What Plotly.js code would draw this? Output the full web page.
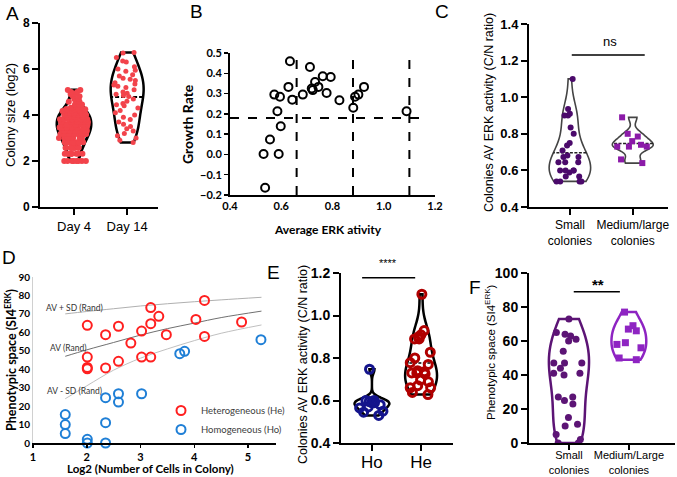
<!DOCTYPE html>
<html><head><meta charset="utf-8">
<script src="https://cdn.plot.ly/plotly-3.0.1.min.js"></script>
<style>html,body{margin:0;padding:0;background:#fff}#chart{width:677px;height:477px}</style>
</head><body><div id="chart"></div>
<script>
// ---------------- DATA ----------------
// Panel A: colony size (log2)
const aCats = ['Day 4', 'Day 14'];
const aDay4Levels = [2.0, 2.32, 2.58, 2.81, 3.0, 3.17, 3.32, 3.46, 3.58, 3.70, 3.81, 3.91, 4.0, 4.09, 4.17, 4.25, 4.32, 4.46, 4.58, 4.70, 4.81, 4.91, 5.0, 5.09];
const aDay4Counts = [8, 9, 10, 11, 12, 12, 12, 12, 11, 10, 9, 8, 8, 6, 6, 5, 4, 3, 3, 2, 2, 2, 2, 2];
const aDay14 = [6.72, 6.7, 6.5, 6.35, 6.3, 6.1, 6.0, 5.95, 5.9, 5.75, 5.7, 5.6, 5.55, 5.5, 5.4, 5.35, 5.3, 5.25, 5.2, 5.1, 5.0, 4.95, 4.9, 4.85, 4.8, 4.7, 4.6, 4.5, 4.45, 4.4, 4.3, 4.2, 4.1, 4.0, 3.9, 3.8, 3.7, 3.6, 3.5, 3.4, 3.3, 3.2, 3.1, 3.0, 2.9, 2.8];

// Panel B: growth rate vs average ERK activity
const bErk = [0.634, 0.712, 0.573, 0.595, 0.628, 0.643, 0.585, 0.598, 0.556, 0.531, 0.590, 0.537, 0.684, 0.719, 0.723, 0.732, 0.745, 0.762, 0.777, 0.793, 0.827, 0.881, 0.888, 0.901, 0.923, 1.089];
const bGrowth = [0.459, 0.431, 0.295, 0.284, 0.333, 0.270, 0.213, 0.139, 0.074, 0.002, 0.002, -0.164, 0.295, 0.325, 0.317, 0.357, 0.333, 0.385, 0.303, 0.382, 0.267, 0.230, 0.284, 0.295, 0.333, 0.213];
const bThreshGrowth = 0.18;
const bThreshErk = [0.66, 0.88, 1.10];

// Panel C: colonies AV ERK activity
const cCats = ['Small<br>colonies', 'Medium/large<br>colonies'];
const cSmall = [1.10, 0.935, 0.91, 0.90, 0.90, 0.835, 0.80, 0.75, 0.736, 0.709, 0.682, 0.673, 0.673, 0.644, 0.644, 0.644, 0.60, 0.60, 0.60, 0.60, 0.589, 0.567, 0.567, 0.54, 0.54, 0.54, 0.54];
const cMedium = [0.89, 0.80, 0.785, 0.76, 0.74, 0.73, 0.73, 0.73, 0.66, 0.64];

// Panel D: phenotypic space vs log2 cells
const dHeX = [2.01, 2.01, 2.01, 2.01, 2.35, 2.35, 2.59, 2.59, 2.82, 3.02, 3.02, 3.19, 3.19, 3.19, 3.34, 3.48, 4.03, 4.19, 4.19, 4.88];
const dHeY = [63.8, 46.6, 41.0, 40.2, 58.7, 40.7, 63.3, 44.3, 54.2, 60.7, 46.6, 73.4, 64.7, 46.6, 68.7, 58.7, 67.0, 77.3, 57.8, 65.6];
const dHoX = [1.6, 1.6, 1.6, 2.01, 2.01, 2.35, 2.35, 2.35, 2.59, 2.59, 3.02, 3.73, 3.82, 5.24];
const dHoY = [15.4, 10.0, 5.1, 2.0, 0.0, 24.6, 11.0, 0.0, 26.7, 22.2, 26.7, 48.4, 49.7, 56.0];
const dRandX = [1.6, 2.0, 2.5, 3.0, 3.5, 4.0, 4.5, 5.25];
const dRandPlusSD = [70.0, 71.3, 72.8, 74.3, 75.5, 76.6, 77.6, 79.0];
const dRandAV = [47.0, 50.5, 54.5, 58.5, 62.0, 65.0, 68.0, 71.5];
const dRandMinusSD = [24.0, 31.0, 39.5, 46.0, 51.0, 55.5, 59.5, 64.0];

// Panel E: Ho vs He ERK activity
const eCats = ['Ho', 'He'];
const eHo = [0.747, 0.60, 0.60, 0.595, 0.59, 0.59, 0.58, 0.57, 0.565, 0.55, 0.545, 0.53];
const eHe = [1.10, 0.929, 0.909, 0.90, 0.89, 0.89, 0.827, 0.80, 0.778, 0.77, 0.74, 0.735, 0.73, 0.73, 0.725, 0.696, 0.688, 0.67, 0.66, 0.66, 0.638, 0.628];

// Panel F: phenotypic space by colony size
const fCats = ['Small<br>colonies', 'Medium/Large<br>colonies'];
const fSmall = [73, 65, 64, 63, 61, 60, 54, 47, 47, 47, 44, 41, 41, 40, 27, 27, 25, 23, 15, 11, 10, 5, 2, 0, 0];
const fMedium = [77, 69, 67, 66, 59, 58, 56, 50, 49];

// ---------------- LAYOUT HELPERS ----------------
const W = 677, H = 477;
const dx = (a, b) => [a / W, b / W];
const dy = (top, bot) => [1 - bot / H, 1 - top / H];
const AR = 'Liberation Sans, Arial, sans-serif';
const CAL = 'Lato, Liberation Sans, sans-serif';
function axis(o) {
  return Object.assign({showgrid: false, zeroline: false, showline: true, linecolor: '#000', linewidth: 2,
    ticks: 'outside', ticklen: 6, tickwidth: 2, tickcolor: '#000', fixedrange: true}, o);
}
function ann(text, x, y, o) {
  return Object.assign({text: text, xref: 'paper', yref: 'paper', x: x / W, y: 1 - y / H, showarrow: false,
    xanchor: 'center', yanchor: 'middle', font: {family: AR, size: 12, color: '#000'}}, o || {});
}
function violin(vals, pos, xa, ya, o) {
  return Object.assign({type: 'violin', y: vals, x0: pos, xaxis: xa, yaxis: ya, points: 'all', pointpos: 0, jitter: 0.9,
    spanmode: 'hard', fillcolor: 'rgba(255,255,255,0)', showlegend: false, hoverinfo: 'y'}, o);
}

const aDay4 = aDay4Levels.flatMap((v, i) => Array(aDay4Counts[i]).fill(v));

const traces = [
  // A
  violin(aDay4, 0, 'x', 'y', {line: {color: '#000', width: 3}, marker: {color: '#f2434b', size: 6}, width: 0.64}),
  violin(aDay14, 1, 'x', 'y', {line: {color: '#000', width: 2.5}, marker: {color: '#f2434b', size: 5}, width: 0.62,
    meanline: {visible: true, color: '#000', width: 2}}),
  // B
  {type: 'scatter', mode: 'markers', x: bErk, y: bGrowth, xaxis: 'x2', yaxis: 'y2', showlegend: false,
   marker: {symbol: 'circle-open', size: 8, color: '#000', line: {width: 2}}},
  // C
  violin(cSmall, 0, 'x3', 'y3', {line: {color: '#444', width: 1.6}, marker: {color: '#4b0a6b', size: 6}, width: 0.66,
    meanline: {visible: true, color: '#222', width: 1.5}}),
  violin(cMedium, 1, 'x3', 'y3', {line: {color: '#444', width: 1.6}, marker: {color: '#8b1aa8', size: 6, symbol: 'square'}, width: 0.65,
    meanline: {visible: true, color: '#222', width: 1.5}}),
  // D
  {type: 'scatter', mode: 'lines', x: dRandX, y: dRandPlusSD, xaxis: 'x4', yaxis: 'y4', showlegend: false, line: {color: '#b0b0b0', width: 1, shape: 'spline'}},
  {type: 'scatter', mode: 'lines', x: dRandX, y: dRandAV, xaxis: 'x4', yaxis: 'y4', showlegend: false, line: {color: '#707070', width: 1, shape: 'spline'}},
  {type: 'scatter', mode: 'lines', x: dRandX, y: dRandMinusSD, xaxis: 'x4', yaxis: 'y4', showlegend: false, line: {color: '#c0c0c0', width: 1, shape: 'spline'}},
  {type: 'scatter', mode: 'markers', name: 'Heterogeneous (He)', x: dHeX, y: dHeY, xaxis: 'x4', yaxis: 'y4',
   marker: {symbol: 'circle-open', size: 9, color: '#ff1f1f', line: {width: 2}}},
  {type: 'scatter', mode: 'markers', name: 'Homogeneous (Ho)', x: dHoX, y: dHoY, xaxis: 'x4', yaxis: 'y4', cliponaxis: false,
   marker: {symbol: 'circle-open', size: 9, color: '#1f7fd6', line: {width: 2}}},
  // E
  violin(eHo, 0, 'x5', 'y5', {line: {color: '#000', width: 2.5}, marker: {color: '#14148c', size: 8, symbol: 'circle-open', line: {width: 3}}, width: 0.71}),
  violin(eHe, 1, 'x5', 'y5', {line: {color: '#000', width: 2.5}, marker: {color: '#b00000', size: 8, symbol: 'circle-open', line: {width: 3}}, width: 0.65,
    meanline: {visible: true, color: '#000', width: 1.5}}),
  // F
  violin(fSmall, 0, 'x6', 'y6', {line: {color: '#5c1475', width: 2.5}, marker: {color: '#5c1475', size: 7}, width: 0.67}),
  violin(fMedium, 1, 'x6', 'y6', {line: {color: '#8e24c2', width: 2.5}, marker: {color: '#8e24c2', size: 7, symbol: 'square'}, width: 0.58})
];

const boldAR = (s) => ({family: AR, size: s, color: '#000', weight: 'bold'});
const boldCAL = (s) => ({family: CAL, size: s, color: '#000', weight: 'bold'});

const layout = {
  width: W, height: H, margin: {l: 0, r: 0, t: 0, b: 0}, paper_bgcolor: '#fff', plot_bgcolor: 'rgba(0,0,0,0)',
  font: {family: AR, color: '#000'},
  // A
  xaxis: axis({domain: dx(40, 158), anchor: 'y', range: [-0.64, 1.58], tickvals: [0, 1], ticktext: aCats, tickfont: {family: AR, size: 13}}),
  yaxis: axis({domain: dy(23, 207), anchor: 'x', range: [0, 8], dtick: 2, tickfont: boldAR(12)}),
  // B
  xaxis2: axis({domain: dx(230, 435), anchor: 'y2', range: [0.4, 1.2], dtick: 0.2, tickformat: '.1f', ticks: '', tickfont: boldCAL(11)}),
  yaxis2: axis({domain: dy(53, 195), anchor: 'x2', range: [-0.2, 0.5], dtick: 0.1, tickformat: '.1f', ticklen: 4, tickwidth: 1.5, tickfont: boldCAL(11)}),
  // C
  xaxis3: axis({domain: dx(529, 668), anchor: 'y3', range: [-0.65, 1.56], tickvals: [0, 1], ticktext: cCats, tickfont: {family: AR, size: 12}}),
  yaxis3: axis({domain: dy(24, 207), anchor: 'x3', range: [0.4, 1.4], dtick: 0.2, tickformat: '.1f', tickfont: boldAR(13)}),
  // D
  xaxis4: axis({domain: dx(33, 276), anchor: 'y4', range: [1, 5.52], dtick: 1, ticklen: 3, tickwidth: 1.5, tickfont: boldCAL(11)}),
  yaxis4: axis({domain: dy(277, 443), anchor: 'x4', range: [0, 90], dtick: 10, linecolor: '#d0d0d0', linewidth: 1, ticks: '', tickfont: boldCAL(10)}),
  // E
  xaxis5: axis({domain: dx(341, 453), anchor: 'y5', range: [-0.63, 1.65], tickvals: [0, 1], ticktext: eCats, ticklabelstandoff: -3, tickfont: {family: AR, size: 17}}),
  yaxis5: axis({domain: dy(273, 443), anchor: 'x5', range: [0.4, 1.2], dtick: 0.2, tickformat: '.1f', tickfont: boldAR(14)}),
  // F
  xaxis6: axis({domain: dx(529, 675), anchor: 'y6', range: [-0.667, 1.77], tickvals: [0, 1], ticktext: fCats, ticklen: 5, ticklabelstandoff: -4, tickfont: {family: AR, size: 11}}),
  yaxis6: axis({domain: dy(273, 443), anchor: 'x6', range: [0, 100], dtick: 20, tickfont: boldAR(14)}),
  legend: {x: 161 / W, y: 1 - 420 / H, xanchor: 'left', yanchor: 'middle', bgcolor: 'rgba(0,0,0,0)',
           font: {family: CAL, size: 9.5, color: '#404040'}, itemwidth: 30, tracegroupgap: 0},
  violingap: 0, violinmode: 'overlay',
  shapes: [
    {type: 'line', xref: 'x2', yref: 'y2', x0: 0.4, x1: 1.15, y0: bThreshGrowth, y1: bThreshGrowth, line: {color: '#000', width: 2, dash: 'dash'}},
    ...bThreshErk.map(v => ({type: 'line', xref: 'x2', yref: 'y2', x0: v, x1: v, y0: -0.2, y1: 0.5, line: {color: '#000', width: 2, dash: 'dash'}})),
    {type: 'line', xref: 'x3', yref: 'y3', x0: 0.03, x1: 1.19, y0: 1.23, y1: 1.23, line: {color: '#000', width: 1.5}},
    {type: 'line', xref: 'x5', yref: 'y5', x0: -0.2, x1: 0.88, y0: 1.178, y1: 1.178, line: {color: '#000', width: 1.5}},
    {type: 'line', xref: 'x6', yref: 'y6', x0: 0.08, x1: 0.85, y0: 89, y1: 89, line: {color: '#000', width: 1.5}}
  ],
  annotations: [
    ann('A', 12, 14, {font: {family: AR, size: 19}}),
    ann('B', 196, 12, {font: {family: AR, size: 19}}),
    ann('C', 442, 12, {font: {family: AR, size: 19}}),
    ann('D', 9, 257, {font: {family: AR, size: 19}}),
    ann('E', 273, 272, {font: {family: AR, size: 19}}),
    ann('F', 475, 287, {font: {family: AR, size: 19}}),
    ann('Colony size (log2)', 11, 115, {textangle: -90, font: {family: AR, size: 13}}),
    ann('Growth Rate', 188, 124, {textangle: -90, font: boldCAL(14)}),
    ann('Average ERK ativity', 328, 230, {font: boldCAL(12)}),
    ann('Colonies AV ERK activity (C/N ratio)', 489, 113, {textangle: -90, font: {family: AR, size: 12.5}}),
    ann('ns', 610, 42, {font: {family: AR, size: 13}}),
    ann('Phenotypic space (SI4<sup>ERK</sup>)', 10, 360, {textangle: -90, font: boldCAL(12.5)}),
    ann('Log2 (Number of Cells in Colony)', 150, 468, {font: boldCAL(11.5)}),
    ann('AV + SD (Rand)', 74, 308, {font: {family: CAL, size: 8.5, color: '#333'}}),
    ann('AV (Rand)', 68, 348, {font: {family: CAL, size: 8.5, color: '#333'}}),
    ann('AV - SD (Rand)', 74, 391, {font: {family: CAL, size: 8.5, color: '#333'}}),
    ann('Colonies AV ERK activity (C/N ratio)', 303, 365, {textangle: -90, font: {family: AR, size: 12.5}}),
    ann('****', 388, 263, {font: {family: AR, size: 11}}),
    ann('Phenotypic space (SI4<sup>ERK</sup>)', 490, 352, {textangle: -90, font: {family: AR, size: 11.5}}),
    ann('**', 598, 284, {font: {family: AR, size: 15, weight: 'bold'}})
  ]
};

Plotly.newPlot('chart', traces, layout, {staticPlot: true, displayModeBar: false});
</script>
</body></html>
